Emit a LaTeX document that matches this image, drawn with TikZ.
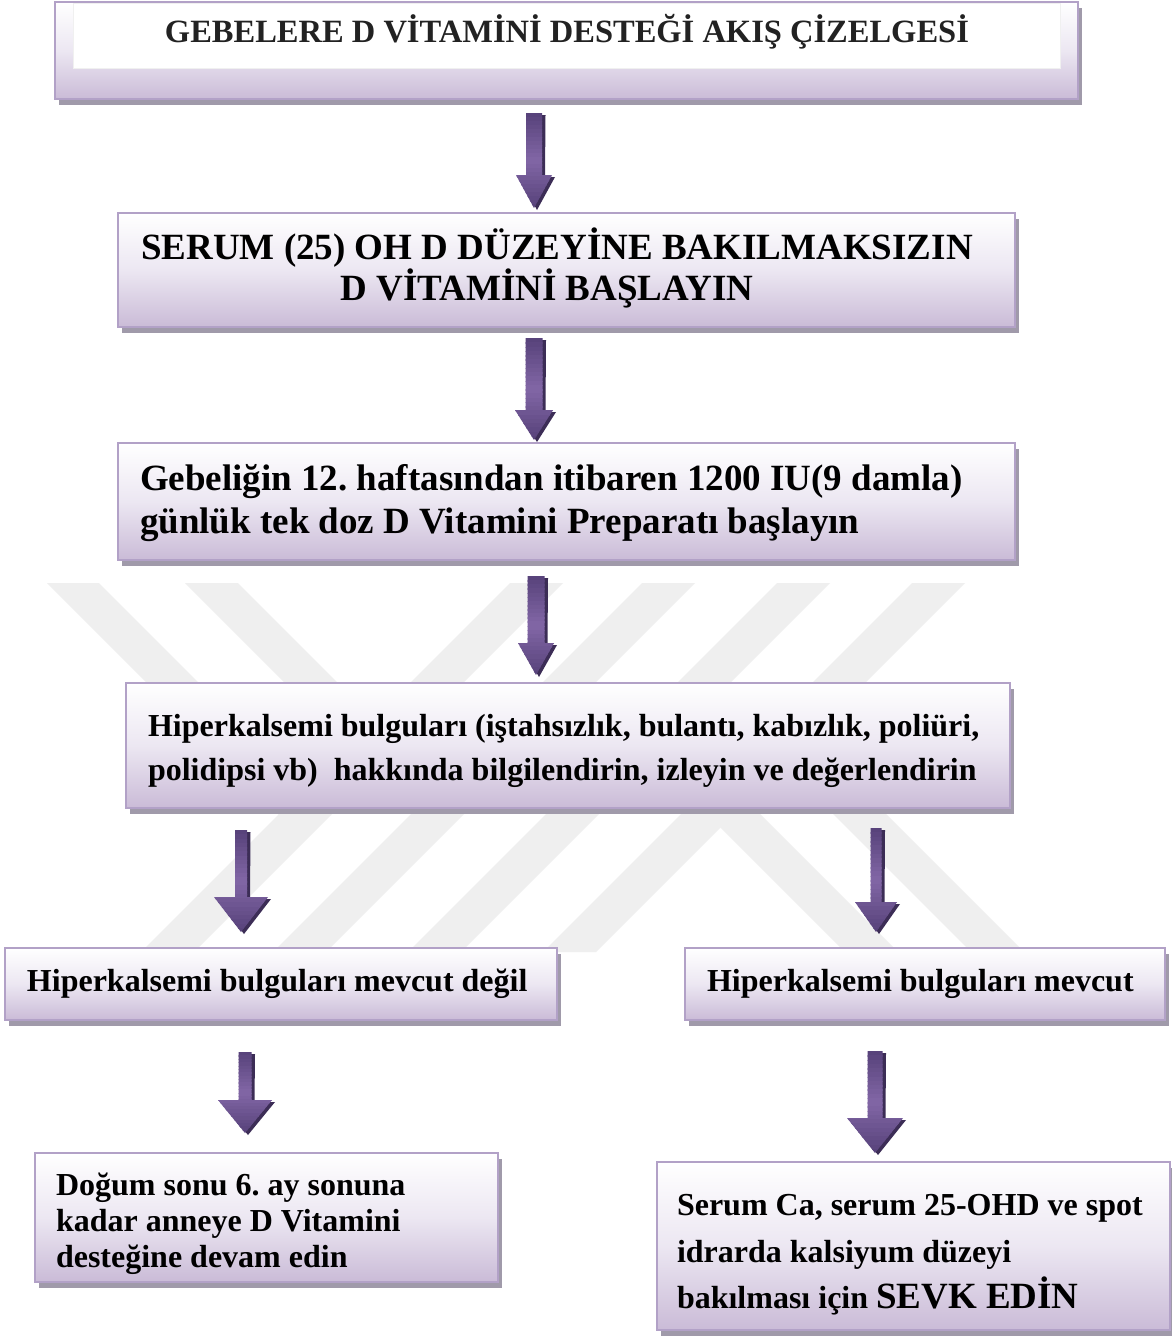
\documentclass[tikz,border=0pt]{standalone}
\usepackage{fontspec}
\setmainfont{Liberation Serif}
\usetikzlibrary{calc}
\definecolor{boxedge}{RGB}{178,161,199}
\definecolor{boxlav}{RGB}{202,187,215}
\definecolor{boxmid}{RGB}{236,231,242}
\definecolor{boxshadow}{RGB}{160,154,170}
\definecolor{arrdark}{RGB}{86,65,121}
\definecolor{arrlight}{RGB}{130,103,166}
\definecolor{arrshadow}{RGB}{60,45,86}
\definecolor{wmgray}{RGB}{239,239,239}
\definecolor{titleink}{RGB}{34,34,34}
\tikzset{
  vbox/.style={draw=boxedge, line width=1.6pt, top color=white, bottom color=boxlav, middle color=boxmid,
    inner sep=0pt, outer sep=0pt,
    preaction={fill=boxshadow, transform canvas={shift={(4pt,-6pt)}}}},
  innerwhite/.style={fill=white, draw=black!6, line width=0.5pt, inner sep=0pt, outer sep=0pt},
  vtext/.style={anchor=base west, inner sep=0pt, outer sep=0pt, font=\bfseries\fontsize{32}{38}\selectfont},
  vbig/.style={anchor=base west, inner sep=0pt, outer sep=0pt, font=\bfseries\fontsize{37}{42}\selectfont},
  vbigc/.style={anchor=base, inner sep=0pt, outer sep=0pt, font=\bfseries\fontsize{37}{42}\selectfont},
  vtitle/.style={anchor=base, inner sep=0pt, outer sep=0pt, text=titleink, font=\bfseries\fontsize{32.5}{38}\selectfont},
  wm/.style={fill=wmgray}
}
% box: name, x1, y1, x2, y2 (pixels, y downward)
\newcommand\flowbox[5]{%
  \node[vbox, minimum width={(#4-#2)*1pt}, minimum height={(#5-#3)*1pt}] (#1) at ({(#2+#4)/2},{(#3+#5)/2}) {};}
% block arrow: start coordinate, target node, gap, half shaft, half head, head length
\newcommand\vitarrow[6]{%
  \coordinate (#1tip) at ($(#1 |- #2.north)+(0,-#3)$);
  \coordinate (#1sh) at ($(#1)+(3.5,2)$);
  \coordinate (#1sht) at ($(#1tip)+(3,2)$);
  \fill[arrshadow] ($(#1sh)+(-#4,0)$) -- ($(#1sh)+(#4,0)$) -- ($(#1sht)+(#4,-#6)$)
    -- ($(#1sht)+(#5,-#6)$) -- (#1sht) -- ($(#1sht)+(-#5,-#6)$) -- ($(#1sht)+(-#4,-#6)$) -- cycle;
  \begin{scope}
    \clip ($(#1)+(-#4,0)$) -- ($(#1)+(#4,0)$) -- ($(#1tip)+(#4,-#6)$)
      -- ($(#1tip)+(#5,-#6)$) -- (#1tip) -- ($(#1tip)+(-#5,-#6)$) -- ($(#1tip)+(-#4,-#6)$) -- cycle;
    \foreach \k [evaluate=\k as \m using {int(100*abs(2*(\k+0.5)/24-1))},
                 evaluate=\k as \ta using \k/24,
                 evaluate=\k as \tb using (\k+1.4)/24] in {0,...,23}{
      \fill[arrdark!\m!arrlight] ($(#1)!\ta!(#1tip)+(-40,0)$) rectangle ($(#1)!\tb!(#1tip)+(40,0)$);}
  \end{scope}}
\frenchspacing
\begin{document}
\begin{tikzpicture}[x=1pt,y=-1pt]
\useasboundingbox (0,0) rectangle (1172,1338);
\fill[white] (0,0) rectangle (1172,1338);
% watermark
\fill[wm] (47,583) -- (99,583) -- (331,815) -- (279,815) -- cycle;
\fill[wm] (185,583) -- (238,583) -- (466,811) -- (413,811) -- cycle;
\foreach \xo in {510,642,777,912}{
  \fill[wm] (\xo,583) -- (\xo+53,583) -- (\xo+53-369,952) -- (\xo-369,952) -- cycle;}
\fill[wm] (663,770) -- (716,770) -- (898,952) -- (845,952) -- cycle;
\fill[wm] (749,730) -- (802,730) -- (1024,952) -- (971,952) -- cycle;
% boxes
\flowbox{b1}{55}{2}{1078}{99}
\node[innerwhite, minimum width=987pt, minimum height=65pt] (b1in) at (566.5,35.5) {};
\flowbox{b2}{118}{213}{1015}{327}
\flowbox{b3}{118}{443}{1015}{560}
\flowbox{b4}{126}{683}{1010}{808}
\flowbox{b5}{5}{948}{557}{1020}
\flowbox{b6}{685}{948}{1165}{1020}
\flowbox{b7}{35}{1153}{498}{1282}
\flowbox{b8}{657}{1162}{1170}{1330}
% texts
\node[vtitle] (t1) at (567,43) {GEBELERE D VİTAMİNİ DESTEĞİ AKIŞ ÇİZELGESİ};
\node[vbigc] (t2a) at (557,259) {SERUM (25) OH D DÜZEYİNE BAKILMAKSIZIN};
\node[vbigc] (t2b) at (547,300) {D VİTAMİNİ BAŞLAYIN};
\node[vbig] (t3a) at (140,490) {Gebeliğin 12. haftasından itibaren 1200 IU(9 damla)};
\node[vbig] (t3b) at (140,533) {günlük tek doz D Vitamini Preparatı başlayın};
\node[vtext] (t4a) at (148,736) {Hiperkalsemi bulguları (iştahsızlık, bulantı, kabızlık, poliüri,};
\node[vtext] (t4b) at (148,780) {polidipsi vb)~ hakkında bilgilendirin, izleyin ve değerlendirin};
\node[vtext] (t5) at (27,991) {Hiperkalsemi bulguları mevcut değil};
\node[vtext] (t6) at (707,991) {Hiperkalsemi bulguları mevcut};
\node[vtext] (t7a) at (56,1195) {Doğum sonu 6. ay sonuna};
\node[vtext] (t7b) at (56,1231) {kadar anneye D Vitamini};
\node[vtext] (t7c) at (56,1267) {desteğine devam edin};
\node[vtext] (t8a) at (677,1215) {Serum Ca, serum 25-OHD ve spot};
\node[vtext] (t8b) at (677,1262) {idrarda kalsiyum düzeyi};
\node[vtext] (t8c) at (677,1308) {bakılması için {\fontsize{37}{42}\selectfont SEVK EDİN}};
% arrows
\coordinate (a1) at (534,113);
\coordinate (a2) at (534,338);
\coordinate (a3) at (536,576);
\coordinate (a4) at (241,830);
\coordinate (a5) at (876,828);
\coordinate (a6) at (245,1052);
\coordinate (a7) at (875,1051);
\vitarrow{a1}{b2}{5}{8}{18}{33}
\vitarrow{a2}{b3}{3}{8.5}{19}{30}
\vitarrow{a3}{b4}{8}{8.5}{18}{32}
\vitarrow{a4}{b5}{16}{6}{27}{35}
\vitarrow{a5}{b6}{16}{5.5}{21}{30}
\vitarrow{a6}{b7}{20}{6.5}{27}{33}
\vitarrow{a7}{b8}{9}{7.5}{28}{35}
\end{tikzpicture}
\end{document}
